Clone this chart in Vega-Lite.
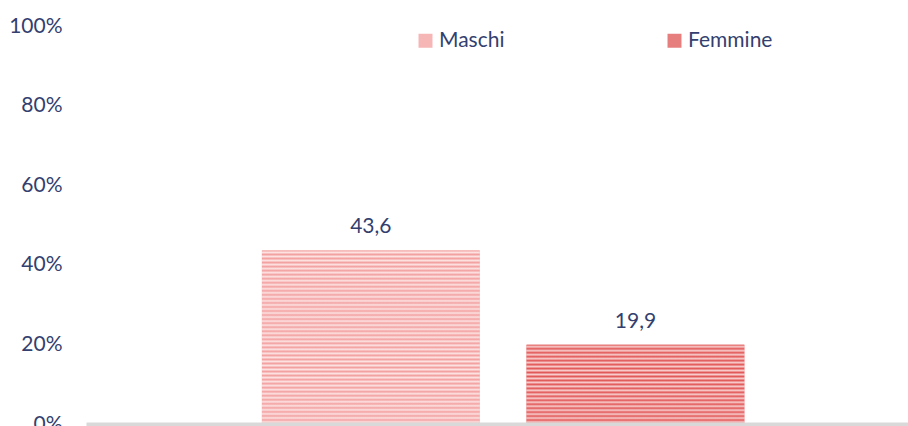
{
  "$schema": "https://vega.github.io/schema/vega-lite/v6.json",
  "autosize": "none",
  "width": 822,
  "height": 398,
  "padding": {"left": 86, "top": 26, "right": 0, "bottom": 2},
  "background": "white",
  "config": {
    "view": {"stroke": null},
    "font": "Lato",
    "locale": {"number": {"decimal": ",", "thousands": ".", "grouping": [3], "currency": ["€", ""]}}
  },
  "data": {"values": [
    {"sesso": "Maschi", "valore": 43.6},
    {"sesso": "Femmine", "valore": 19.9}
  ]},
  "encoding": {
    "x": {"field": "sesso", "type": "nominal", "sort": ["Maschi", "Femmine"],
      "scale": {"paddingInner": 0.177, "paddingOuter": 0.6415, "align": 0.518},
      "axis": {"title": null, "labels": false, "ticks": false, "domainColor": "#d9d9d9", "domainWidth": 4, "zindex": 1}},
    "y": {"field": "valore", "type": "quantitative",
      "scale": {"domain": [0, 100], "nice": false},
      "axis": {"title": null, "values": [0, 20, 40, 60, 80, 100], "labelExpr": "datum.value + '%'", "grid": false, "domain": false, "ticks": false, "tickSize": 0, "labelPadding": 24, "labelFont": "Lato", "labelFontSize": 21, "labelColor": "#333f6f"}}
  },
  "layer": [
    {
      "mark": {"type": "bar"},
      "encoding": {
        "color": {"field": "sesso", "type": "nominal",
          "scale": {"domain": ["Maschi", "Femmine"], "range": ["#f6b6b6", "#e77e7e"]},
          "legend": {"title": null, "orient": "none", "direction": "horizontal", "legendX": 329, "legendY": 4,
            "symbolType": "square", "symbolSize": 196, "symbolStrokeWidth": 0, "labelOffset": 3, "columnPadding": 159,
            "labelFont": "Lato", "labelFontSize": 21, "labelColor": "#333f6f", "padding": 0}}
      }
    },
    {
      "transform": [{"filter": "datum.sesso === 'Maschi'"}],
      "mark": {"type": "bar", "fill": {"gradient": "linear", "x1": 0, "y1": 0, "x2": 0, "y2": 1, "stops": [
        {"offset": 0, "color": "#f3a0a0"}, {"offset": 0.0116, "color": "#fde2e2"},
        {"offset": 0.0233, "color": "#f3a0a0"}, {"offset": 0.0349, "color": "#fde2e2"},
        {"offset": 0.0465, "color": "#f3a0a0"}, {"offset": 0.0581, "color": "#fde2e2"},
        {"offset": 0.0698, "color": "#f3a0a0"}, {"offset": 0.0814, "color": "#fde2e2"},
        {"offset": 0.0930, "color": "#f3a0a0"}, {"offset": 0.1047, "color": "#fde2e2"},
        {"offset": 0.1163, "color": "#f3a0a0"}, {"offset": 0.1279, "color": "#fde2e2"},
        {"offset": 0.1395, "color": "#f3a0a0"}, {"offset": 0.1512, "color": "#fde2e2"},
        {"offset": 0.1628, "color": "#f3a0a0"}, {"offset": 0.1744, "color": "#fde2e2"},
        {"offset": 0.1860, "color": "#f3a0a0"}, {"offset": 0.1977, "color": "#fde2e2"},
        {"offset": 0.2093, "color": "#f3a0a0"}, {"offset": 0.2209, "color": "#fde2e2"},
        {"offset": 0.2326, "color": "#f3a0a0"}, {"offset": 0.2442, "color": "#fde2e2"},
        {"offset": 0.2558, "color": "#f3a0a0"}, {"offset": 0.2674, "color": "#fde2e2"},
        {"offset": 0.2791, "color": "#f3a0a0"}, {"offset": 0.2907, "color": "#fde2e2"},
        {"offset": 0.3023, "color": "#f3a0a0"}, {"offset": 0.3140, "color": "#fde2e2"},
        {"offset": 0.3256, "color": "#f3a0a0"}, {"offset": 0.3372, "color": "#fde2e2"},
        {"offset": 0.3488, "color": "#f3a0a0"}, {"offset": 0.3605, "color": "#fde2e2"},
        {"offset": 0.3721, "color": "#f3a0a0"}, {"offset": 0.3837, "color": "#fde2e2"},
        {"offset": 0.3953, "color": "#f3a0a0"}, {"offset": 0.4070, "color": "#fde2e2"},
        {"offset": 0.4186, "color": "#f3a0a0"}, {"offset": 0.4302, "color": "#fde2e2"},
        {"offset": 0.4419, "color": "#f3a0a0"}, {"offset": 0.4535, "color": "#fde2e2"},
        {"offset": 0.4651, "color": "#f3a0a0"}, {"offset": 0.4767, "color": "#fde2e2"},
        {"offset": 0.4884, "color": "#f3a0a0"}, {"offset": 0.5, "color": "#fde2e2"},
        {"offset": 0.5116, "color": "#f3a0a0"}, {"offset": 0.5233, "color": "#fde2e2"},
        {"offset": 0.5349, "color": "#f3a0a0"}, {"offset": 0.5465, "color": "#fde2e2"},
        {"offset": 0.5581, "color": "#f3a0a0"}, {"offset": 0.5698, "color": "#fde2e2"},
        {"offset": 0.5814, "color": "#f3a0a0"}, {"offset": 0.5930, "color": "#fde2e2"},
        {"offset": 0.6047, "color": "#f3a0a0"}, {"offset": 0.6163, "color": "#fde2e2"},
        {"offset": 0.6279, "color": "#f3a0a0"}, {"offset": 0.6395, "color": "#fde2e2"},
        {"offset": 0.6512, "color": "#f3a0a0"}, {"offset": 0.6628, "color": "#fde2e2"},
        {"offset": 0.6744, "color": "#f3a0a0"}, {"offset": 0.6860, "color": "#fde2e2"},
        {"offset": 0.6977, "color": "#f3a0a0"}, {"offset": 0.7093, "color": "#fde2e2"},
        {"offset": 0.7209, "color": "#f3a0a0"}, {"offset": 0.7326, "color": "#fde2e2"},
        {"offset": 0.7442, "color": "#f3a0a0"}, {"offset": 0.7558, "color": "#fde2e2"},
        {"offset": 0.7674, "color": "#f3a0a0"}, {"offset": 0.7791, "color": "#fde2e2"},
        {"offset": 0.7907, "color": "#f3a0a0"}, {"offset": 0.8023, "color": "#fde2e2"},
        {"offset": 0.8140, "color": "#f3a0a0"}, {"offset": 0.8256, "color": "#fde2e2"},
        {"offset": 0.8372, "color": "#f3a0a0"}, {"offset": 0.8488, "color": "#fde2e2"},
        {"offset": 0.8605, "color": "#f3a0a0"}, {"offset": 0.8721, "color": "#fde2e2"},
        {"offset": 0.8837, "color": "#f3a0a0"}, {"offset": 0.8953, "color": "#fde2e2"},
        {"offset": 0.9070, "color": "#f3a0a0"}, {"offset": 0.9186, "color": "#fde2e2"},
        {"offset": 0.9302, "color": "#f3a0a0"}, {"offset": 0.9419, "color": "#fde2e2"},
        {"offset": 0.9535, "color": "#f3a0a0"}, {"offset": 0.9651, "color": "#fde2e2"},
        {"offset": 0.9767, "color": "#f3a0a0"}, {"offset": 0.9884, "color": "#fde2e2"},
        {"offset": 1, "color": "#f3a0a0"}
      ]}}
    },
    {
      "transform": [{"filter": "datum.sesso === 'Femmine'"}],
      "mark": {"type": "bar", "fill": {"gradient": "linear", "x1": 0, "y1": 0, "x2": 0, "y2": 1, "stops": [
        {"offset": 0, "color": "#e25858"}, {"offset": 0.025, "color": "#f8cccc"},
        {"offset": 0.05, "color": "#e25858"}, {"offset": 0.075, "color": "#f8cccc"},
        {"offset": 0.1, "color": "#e25858"}, {"offset": 0.125, "color": "#f8cccc"},
        {"offset": 0.15, "color": "#e25858"}, {"offset": 0.175, "color": "#f8cccc"},
        {"offset": 0.2, "color": "#e25858"}, {"offset": 0.225, "color": "#f8cccc"},
        {"offset": 0.25, "color": "#e25858"}, {"offset": 0.275, "color": "#f8cccc"},
        {"offset": 0.3, "color": "#e25858"}, {"offset": 0.325, "color": "#f8cccc"},
        {"offset": 0.35, "color": "#e25858"}, {"offset": 0.375, "color": "#f8cccc"},
        {"offset": 0.4, "color": "#e25858"}, {"offset": 0.425, "color": "#f8cccc"},
        {"offset": 0.45, "color": "#e25858"}, {"offset": 0.475, "color": "#f8cccc"},
        {"offset": 0.5, "color": "#e25858"}, {"offset": 0.525, "color": "#f8cccc"},
        {"offset": 0.55, "color": "#e25858"}, {"offset": 0.575, "color": "#f8cccc"},
        {"offset": 0.6, "color": "#e25858"}, {"offset": 0.625, "color": "#f8cccc"},
        {"offset": 0.65, "color": "#e25858"}, {"offset": 0.675, "color": "#f8cccc"},
        {"offset": 0.7, "color": "#e25858"}, {"offset": 0.725, "color": "#f8cccc"},
        {"offset": 0.75, "color": "#e25858"}, {"offset": 0.775, "color": "#f8cccc"},
        {"offset": 0.8, "color": "#e25858"}, {"offset": 0.825, "color": "#f8cccc"},
        {"offset": 0.85, "color": "#e25858"}, {"offset": 0.875, "color": "#f8cccc"},
        {"offset": 0.9, "color": "#e25858"}, {"offset": 0.925, "color": "#f8cccc"},
        {"offset": 0.95, "color": "#e25858"}, {"offset": 0.975, "color": "#f8cccc"},
        {"offset": 1, "color": "#e25858"}
      ]}}
    },
    {
      "mark": {"type": "text", "baseline": "alphabetic", "dy": -17, "font": "Lato", "fontSize": 21, "color": "#333f6f"},
      "encoding": {
        "text": {"field": "valore", "type": "quantitative", "format": ".1f"}
      }
    }
  ]
}
